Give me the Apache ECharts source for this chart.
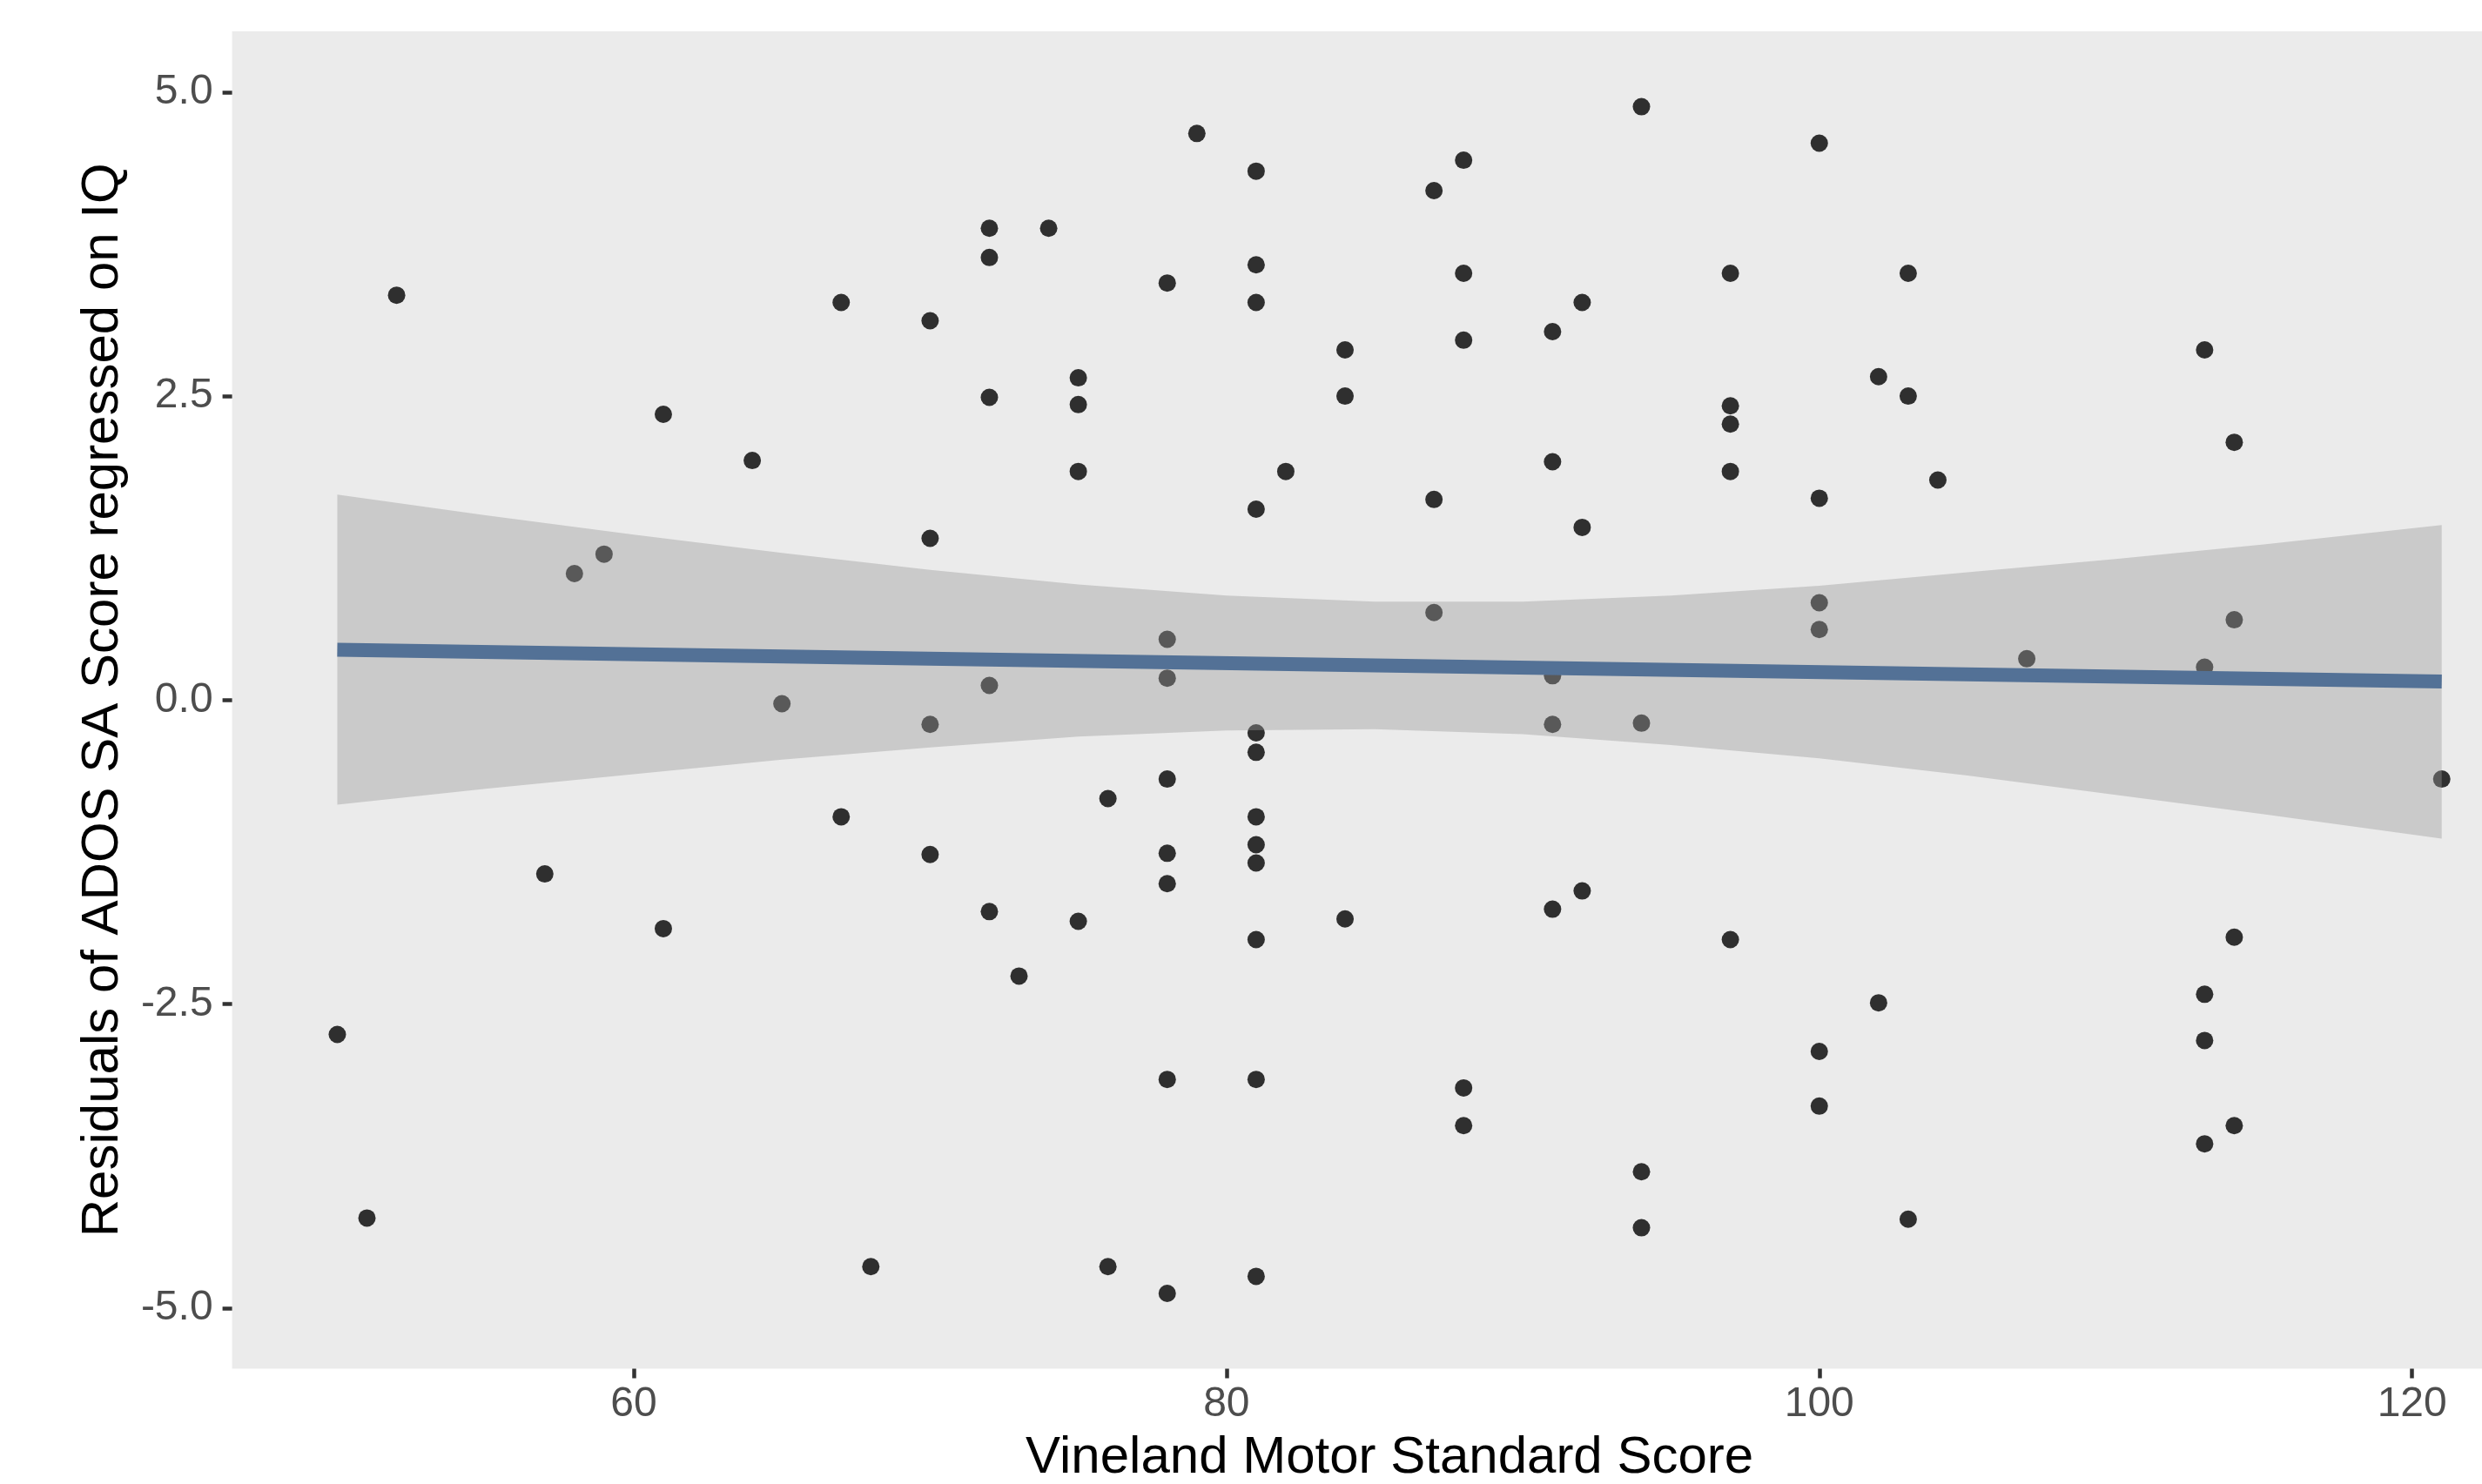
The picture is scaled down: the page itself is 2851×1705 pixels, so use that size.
<!DOCTYPE html>
<html>
<head>
<meta charset="utf-8">
<script src="https://cdn.jsdelivr.net/npm/echarts@6/dist/echarts.min.js"></script>
<style>
html,body{margin:0;padding:0;background:#ffffff;}
#chart{width:2851px;height:1705px;}
</style>
</head>
<body>
<div id="chart"></div>
<script>
// Scatter points
const motorScore = [
  50, 51, 52, 57, 58, 59, 61, 61, 64, 65, 67, 67, 68,
  70, 70, 70, 70, 72, 72, 72, 72, 72, 73, 74,
  75, 75, 75, 75, 76, 76,
  78, 78, 78, 78, 78, 78, 78, 78, 79,
  81, 81, 81, 81, 81, 81, 81, 81, 81, 81, 81, 81,
  82, 84, 84, 84, 87, 87, 87, 88, 88, 88, 88, 88,
  91, 91, 91, 91, 91, 92, 92, 92, 94, 94, 94, 94,
  97, 97, 97, 97, 97, 100, 100, 100, 100, 100, 100,
  102, 102, 103, 103, 103, 104, 107,
  113, 113, 113, 113, 113, 114, 114, 114, 114, 121
];
const residual = [
  -2.75, -4.26, 3.33, -1.43, 1.04, 1.20, 2.35, -1.88, 1.97, -0.03, 3.27, -0.96, -4.66,
  3.12, 1.33, -0.20, -1.27, 3.88, 3.64, 2.49, 0.12, -1.74, -2.27, 3.88,
  2.65, 2.43, 1.88, -1.82, -0.81, -4.66,
  3.43, 0.50, 0.18, -0.65, -1.26, -1.51, -3.12, -4.88, 4.66,
  4.35, 3.58, 3.27, 1.57, -0.27, -0.43, -0.96, -1.19, -1.34, -1.97, -3.12, -4.74,
  1.88, 2.88, 2.50, -1.80, 4.19, 1.65, 0.72, 4.44, 3.51, 2.96, -3.19, -3.50,
  3.03, 1.96, 0.20, -0.20, -1.72, 3.27, 1.42, -1.57, 4.88, -0.19, -3.88, -4.34,
  3.51, 2.42, 2.27, 1.88, -1.97, 4.58, 1.66, 0.80, 0.58, -2.89, -3.34,
  2.66, -2.49, 3.51, 2.50, -4.27, 1.81, 0.34,
  2.88, 0.27, -2.42, -2.80, -3.65, 2.12, 0.66, -1.95, -3.50, -0.65
];
// Confidence band edges
const ciX     = [50, 55, 60, 65, 70, 75, 80, 85, 90, 95, 100, 105, 110, 115, 121];
const ciUpper = [1.69, 1.52, 1.36, 1.21, 1.07, 0.95, 0.86, 0.81, 0.81, 0.86, 0.94, 1.05, 1.16, 1.28, 1.44];
const ciLower = [-0.86, -0.73, -0.61, -0.49, -0.39, -0.30, -0.25, -0.24, -0.28, -0.37, -0.48, -0.62, -0.78, -0.94, -1.14];
// Fitted line end points
const fitX = [50, 121];
const fitY = [0.414, 0.152];
// Tick labels
const xTicks = [60, 80, 100, 120];
const yTicks = [-5, -2.5, 0, 2.5, 5];

const points = motorScore.map((x, i) => [x, residual[i]]);
const fitLine = fitX.map((x, i) => [x, fitY[i]]);

const chart = echarts.init(document.getElementById('chart'), null, {renderer: 'canvas', devicePixelRatio: 1});
const FONT = 'Liberation Sans';

chart.setOption({
  animation: false,
  backgroundColor: '#ffffff',
  grid: {
    left: 266.6, top: 36, width: 2659, height: 1536.6,
    show: true, backgroundColor: '#EBEBEB', borderWidth: 0,
    containLabel: false, outerBoundsMode: 'none'
  },
  xAxis: {
    type: 'value', min: 46.45, max: 124.55,
    name: 'Vineland Motor Standard Score',
    nameLocation: 'middle', nameGap: 73,
    nameTextStyle: {fontFamily: FONT, fontSize: 60, color: '#000000'},
    axisLine: {show: false, onZero: false},
    axisTick: {show: true, length: 11, customValues: xTicks, lineStyle: {color: '#333333', width: 4.5}},
    axisLabel: {customValues: xTicks, margin: 17, fontFamily: FONT, fontSize: 48, color: '#4D4D4D'},
    splitLine: {show: false}
  },
  yAxis: {
    type: 'value', min: -5.5, max: 5.5,
    name: 'Residuals of ADOS SA Score regressed on IQ',
    nameLocation: 'middle', nameGap: 118, nameRotate: 90,
    nameTextStyle: {fontFamily: FONT, fontSize: 60, color: '#000000'},
    axisLine: {show: false, onZero: false},
    axisTick: {show: true, length: 11, customValues: yTicks, lineStyle: {color: '#333333', width: 4.5}},
    axisLabel: {customValues: yTicks, margin: 22, fontFamily: FONT, fontSize: 48, color: '#4D4D4D',
      padding: [6, 0, 0, 0],
      formatter: v => Number(v).toFixed(1)},
    splitLine: {show: false}
  },
  series: [
    {
      type: 'scatter', z: 2,
      data: points,
      symbol: 'circle', symbolSize: 20,
      itemStyle: {color: '#000000'}
    },
    {
      type: 'custom', z: 3,
      data: [[ciX[0], ciUpper[0]]],
      renderItem: function (params, api) {
        const pts = [];
        for (let i = 0; i < ciX.length; i++) pts.push(api.coord([ciX[i], ciUpper[i]]));
        for (let i = ciX.length - 1; i >= 0; i--) pts.push(api.coord([ciX[i], ciLower[i]]));
        return {
          type: 'polygon',
          shape: {points: pts},
          style: {fill: 'rgba(153,153,153,0.4)', stroke: null}
        };
      }
    },
    {
      type: 'line', z: 4,
      data: fitLine,
      symbol: 'none',
      lineStyle: {color: '#537196', width: 16, cap: 'butt'}
    }
  ]
});
</script>
</body>
</html>
